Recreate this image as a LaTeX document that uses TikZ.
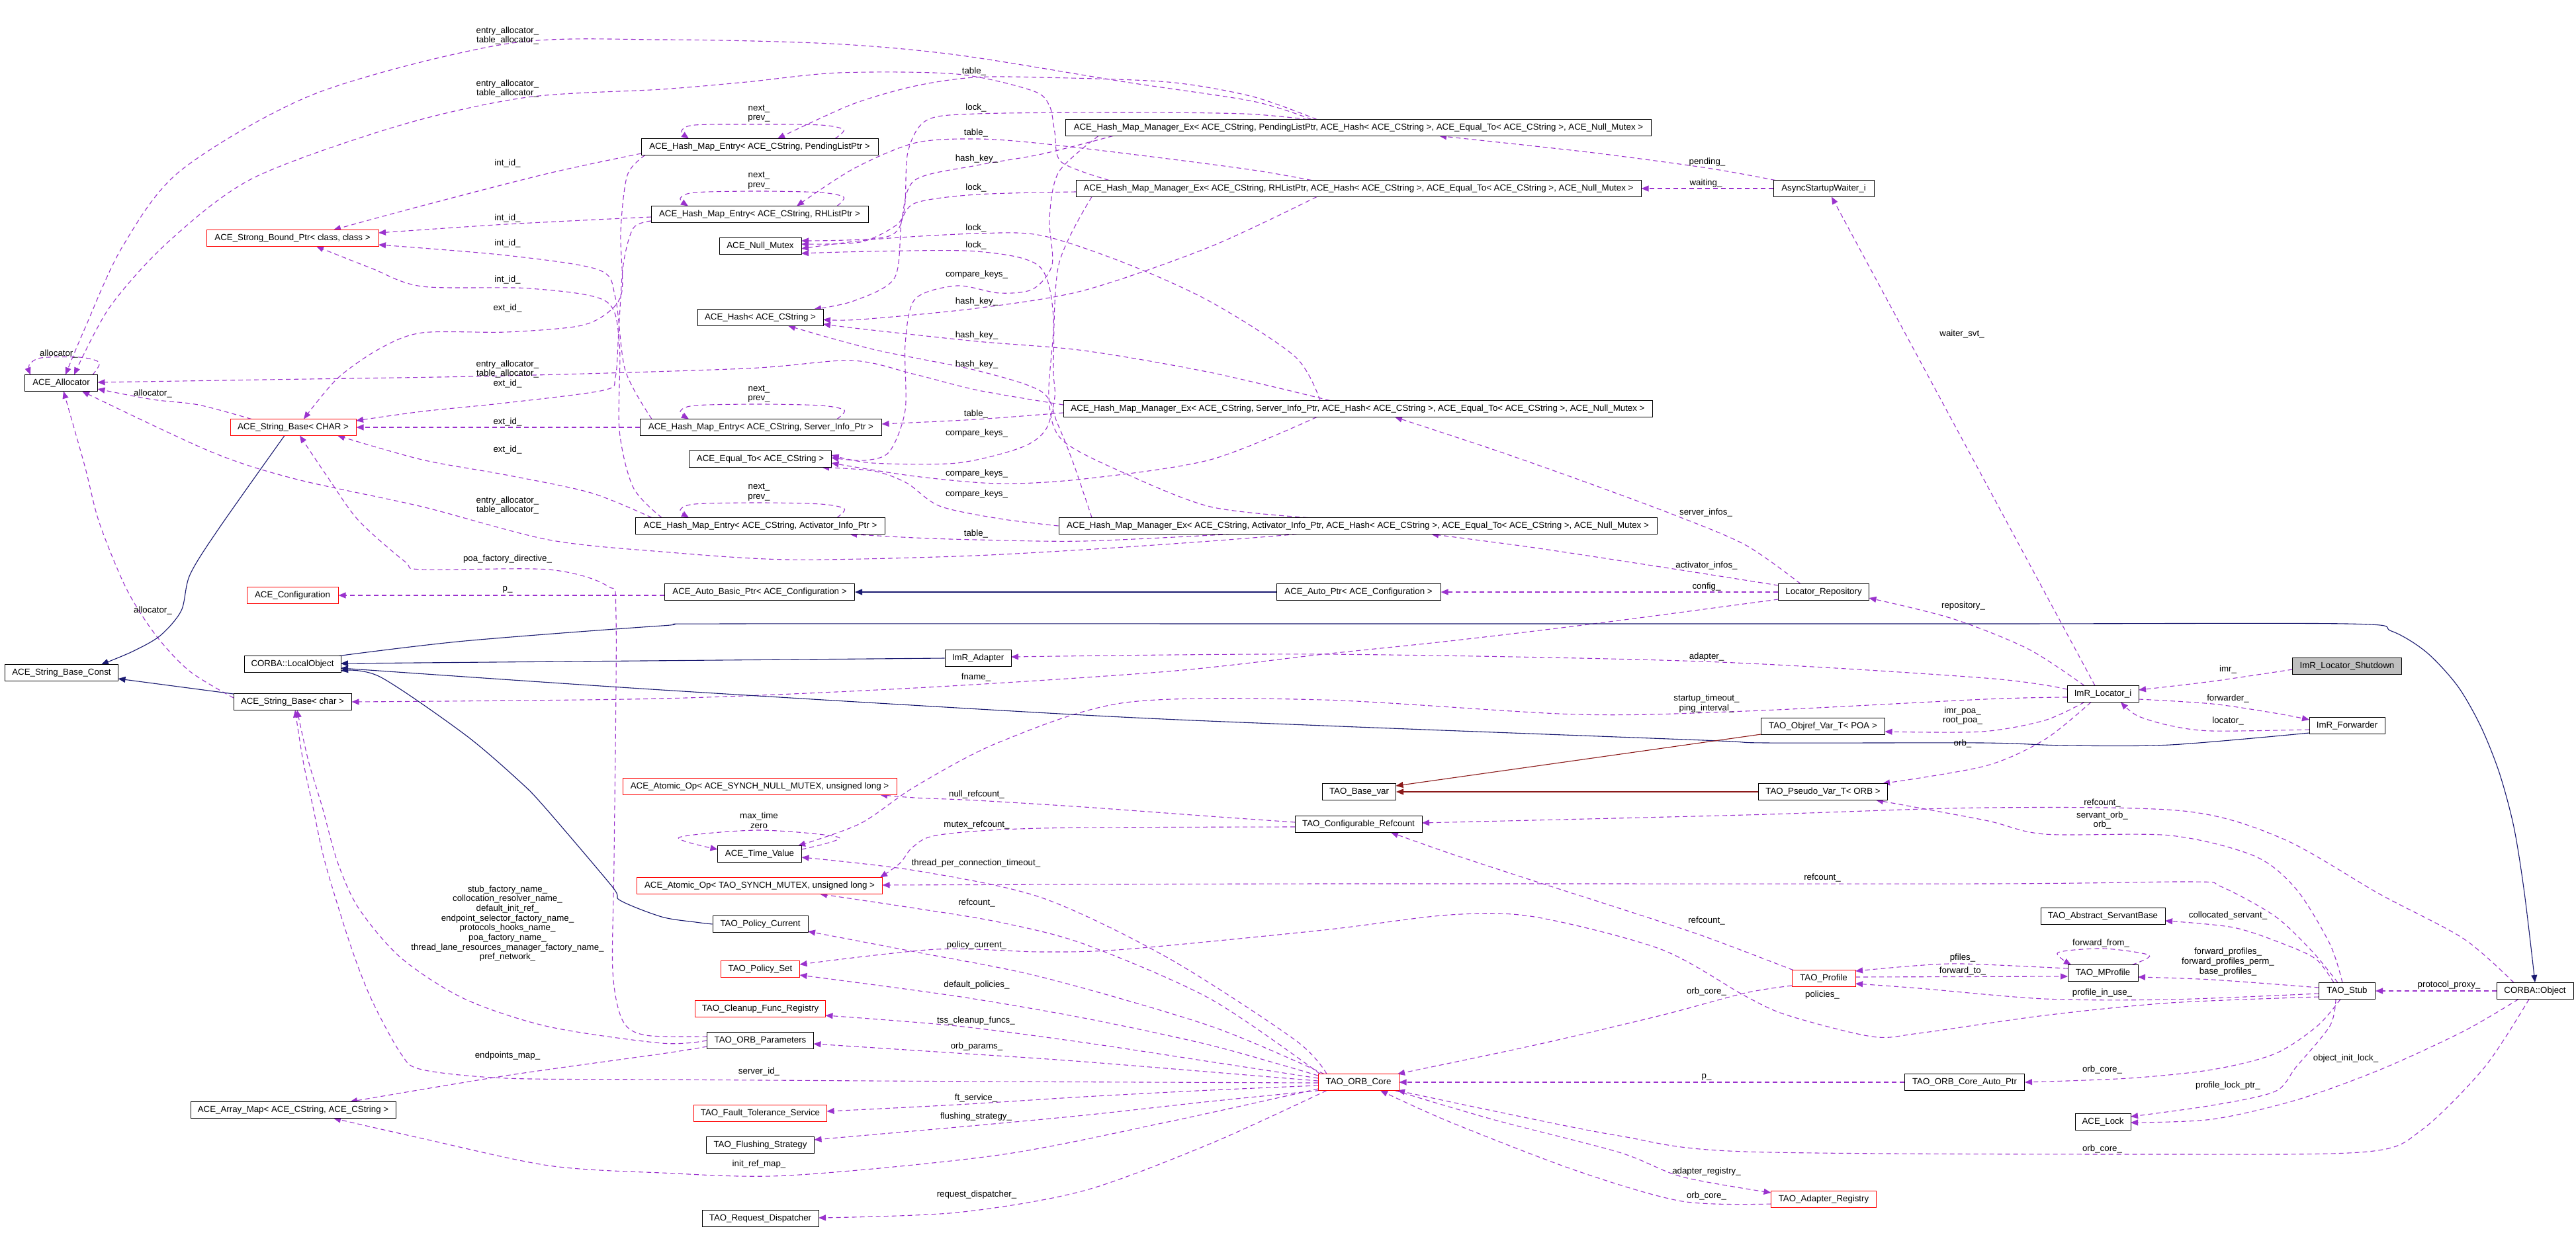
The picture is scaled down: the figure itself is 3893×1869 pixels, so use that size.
\documentclass[tikz,border=0pt]{standalone}
\usepackage{fontspec}
\setmainfont{Liberation Sans}
\usetikzlibrary{arrows.meta}
\definecolor{ucol}{HTML}{9A32CD}
\definecolor{icol}{HTML}{191970}
\definecolor{tcol}{HTML}{8B1A1A}
\definecolor{gcol}{HTML}{BFBFBF}
\pgfdeclarelayer{bg}
\pgfdeclarelayer{edges}
\pgfsetlayers{bg,edges,main}
\tikzset{
  cls/.style={draw=black, line width=1pt, fill=white, minimum height=25pt, inner sep=0pt, font=\fontsize{13.3}{15}\selectfont},
  rcls/.style={cls, draw=red},
  gcls/.style={cls, fill=gcol},
  lbl/.style={inner sep=0pt, align=center, font=\fontsize{13.3}{14.7}\selectfont},
  myarrow/.style={-{Triangle[length=11pt,width=9pt]}},
  uedge/.style={draw=ucol, line width=1.1pt, dash pattern=on 7pt off 5pt, myarrow},
  iedge/.style={draw=icol, line width=1.1pt, myarrow},
  tedge/.style={draw=tcol, line width=1.1pt, myarrow},
}
\begin{document}
\begin{tikzpicture}[x=1pt,y=-1pt]
\begin{pgfonlayer}{bg}
\fill[white] (0,0) rectangle (3893,1869);
\end{pgfonlayer}
\useasboundingbox (0,0) rectangle (3893,1869);

% ---------------- nodes ----------------
\node[cls,minimum width=110pt] (alloc) at (92.5,579) {ACE\_Allocator};
\node[cls,minimum width=171pt] (sbconst) at (93,1017) {ACE\_String\_Base\_Const};
\node[rcls,minimum width=260pt] (sbp) at (442,360) {ACE\_Strong\_Bound\_Ptr< class, class >};
\node[rcls,minimum width=190pt] (sbU) at (443,646) {ACE\_String\_Base< CHAR >};
\node[rcls,minimum width=138pt] (config) at (442,900) {ACE\_Configuration};
\node[cls,minimum width=146pt] (lobj) at (442,1004) {CORBA::LocalObject};
\node[cls,minimum width=178pt] (sbl) at (442,1061) {ACE\_String\_Base< char >};
\node[cls,minimum width=310pt] (amap) at (443,1678) {ACE\_Array\_Map< ACE\_CString, ACE\_CString >};

\node[cls,minimum width=358pt] (hme1) at (1148,222) {ACE\_Hash\_Map\_Entry< ACE\_CString, PendingListPtr >};
\node[cls,minimum width=328pt] (hme2) at (1148,324) {ACE\_Hash\_Map\_Entry< ACE\_CString, RHListPtr >};
\node[cls,minimum width=124pt] (nmutex) at (1149,372) {ACE\_Null\_Mutex};
\node[cls,minimum width=190pt] (hash) at (1149,480) {ACE\_Hash< ACE\_CString >};
\node[cls,minimum width=365pt] (hme3) at (1150,646) {ACE\_Hash\_Map\_Entry< ACE\_CString, Server\_Info\_Ptr >};
\node[cls,minimum width=215pt] (equal) at (1149,694) {ACE\_Equal\_To< ACE\_CString >};
\node[cls,minimum width=377pt] (hme4) at (1149,795) {ACE\_Hash\_Map\_Entry< ACE\_CString, Activator\_Info\_Ptr >};
\node[cls,minimum width=287pt] (abp) at (1148,895) {ACE\_Auto\_Basic\_Ptr< ACE\_Configuration >};
\node[cls,minimum width=100pt] (adapter) at (1478,995) {ImR\_Adapter};
\node[rcls,minimum width=414pt] (aonull) at (1148,1189) {ACE\_Atomic\_Op< ACE\_SYNCH\_NULL\_MUTEX, unsigned long >};
\node[cls,minimum width=127pt] (tval) at (1148,1291) {ACE\_Time\_Value};
\node[rcls,minimum width=371pt] (aomutex) at (1148,1339) {ACE\_Atomic\_Op< TAO\_SYNCH\_MUTEX, unsigned long >};
\node[cls,minimum width=144pt] (pcur) at (1149,1397) {TAO\_Policy\_Current};
\node[rcls,minimum width=119pt] (pset) at (1149,1465) {TAO\_Policy\_Set};
\node[rcls,minimum width=197pt] (cfr) at (1149,1525) {TAO\_Cleanup\_Func\_Registry};
\node[cls,minimum width=161pt] (orbp) at (1149,1573) {TAO\_ORB\_Parameters};
\node[rcls,minimum width=201pt] (fts) at (1149,1683) {TAO\_Fault\_Tolerance\_Service};
\node[cls,minimum width=163pt] (fls) at (1149,1731) {TAO\_Flushing\_Strategy};
\node[cls,minimum width=176pt] (rd) at (1149,1842) {TAO\_Request\_Dispatcher};

\node[cls,minimum width=885pt] (hm1) at (2053,193) {ACE\_Hash\_Map\_Manager\_Ex< ACE\_CString, PendingListPtr, ACE\_Hash< ACE\_CString >, ACE\_Equal\_To< ACE\_CString >, ACE\_Null\_Mutex >};
\node[cls,minimum width=854pt] (hm2) at (2053,285) {ACE\_Hash\_Map\_Manager\_Ex< ACE\_CString, RHListPtr, ACE\_Hash< ACE\_CString >, ACE\_Equal\_To< ACE\_CString >, ACE\_Null\_Mutex >};
\node[cls,minimum width=890pt] (hm3) at (2052,618) {ACE\_Hash\_Map\_Manager\_Ex< ACE\_CString, Server\_Info\_Ptr, ACE\_Hash< ACE\_CString >, ACE\_Equal\_To< ACE\_CString >, ACE\_Null\_Mutex >};
\node[cls,minimum width=904pt] (hm4) at (2052,795) {ACE\_Hash\_Map\_Manager\_Ex< ACE\_CString, Activator\_Info\_Ptr, ACE\_Hash< ACE\_CString >, ACE\_Equal\_To< ACE\_CString >, ACE\_Null\_Mutex >};
\node[cls,minimum width=248pt] (aptr) at (2053,895) {ACE\_Auto\_Ptr< ACE\_Configuration >};
\node[cls,minimum width=111pt] (basevar) at (2054,1197) {TAO\_Base\_var};
\node[cls,minimum width=192pt] (cref) at (2053,1246) {TAO\_Configurable\_Refcount};
\node[rcls,minimum width=122pt] (orbcore) at (2053,1636) {TAO\_ORB\_Core};

\node[cls,minimum width=152pt] (asw) at (2756,285) {AsyncStartupWaiter\_i};
\node[cls,minimum width=137pt] (repo) at (2756,895) {Locator\_Repository};
\node[cls,minimum width=187pt] (objref) at (2755,1098) {TAO\_Objref\_Var\_T< POA >};
\node[cls,minimum width=195pt] (pseudo) at (2755,1197) {TAO\_Pseudo\_Var\_T< ORB >};
\node[rcls,minimum width=96pt] (profile) at (2756,1479) {TAO\_Profile};
\node[rcls,minimum width=159pt] (areg) at (2756,1813) {TAO\_Adapter\_Registry};
\node[cls,minimum width=181pt] (orbap) at (2969,1636) {TAO\_ORB\_Core\_Auto\_Ptr};

\node[cls,minimum width=108pt] (loc) at (3178,1049) {ImR\_Locator\_i};
\node[cls,minimum width=188pt] (asb) at (3178,1385) {TAO\_Abstract\_ServantBase};
\node[cls,minimum width=106pt] (mprof) at (3178,1471) {TAO\_MProfile};
\node[cls,minimum width=84pt] (lock) at (3178,1696) {ACE\_Lock};
\node[gcls,minimum width=165pt] (shut) at (3547,1007) {ImR\_Locator\_Shutdown};
\node[cls,minimum width=114pt] (fwd) at (3547,1097) {ImR\_Forwarder};
\node[cls,minimum width=85pt] (stub) at (3547,1498) {TAO\_Stub};
\node[cls,minimum width=116pt] (cobj) at (3831,1498) {CORBA::Object};

% ---------------- edges ----------------
\begin{pgfonlayer}{edges}
% allocator
\draw[uedge] plot[smooth] coordinates {([shift={(47.5,-12.5)}]alloc.center) (150,548) (120,540) (62,541) (44,552) ([shift={(-46.5,-12.5)}]alloc.center)};
\draw[uedge] plot[smooth] coordinates {([shift={(-71,-12.5)}]hm1.center) (1893,153) (1701,124) (1446,83) (1255,66) (1000,60) (767,66) (478,141) (274,257) (185,373) (128,497) ([shift={(6.5,-12.5)}]alloc.center)};
\draw[uedge] plot[smooth] coordinates {([shift={(-377,-12.5)}]hm2.center) (1604,245) (1594,200) (1586,160) (1560,137) (1446,112) (1268,110) (1128,124) (1000,135) (797,147) (606,189) (383,269) (255,365) (166,464) ([shift={(19.5,-12.5)}]alloc.center)};
\draw[uedge] plot[smooth] coordinates {([shift={(-445,-6)}]hm3.center) (1478,590) (1383,566) (1287,545) (1128,557) (767,568) (400,574) ([shift={(55,-1)}]alloc.center)};
\draw[uedge] plot[smooth] coordinates {([shift={(-92,12.5)}]hm4.center) (1829,818) (1638,831) (1446,841) (1191,846) (1000,834) (829,816) (638,766) (446,724) (319,683) ([shift={(31.5,12.5)}]alloc.center)};
\draw[uedge] plot[smooth] coordinates {([shift={(-63,-12.5)}]sbU.center) (300,612) (231,604) ([shift={(55,9)}]alloc.center)};
\draw[uedge] plot[smooth] coordinates {([shift={(-89,-6)}]sbl.center) (287,1015) (236,961) (191,890) (150,790) (128,704) ([shift={(3.5,12.5)}]alloc.center)};
% table_
\draw[uedge] plot[smooth] coordinates {([shift={(-63,-12.5)}]hm1.center) (1893,146) (1765,124) (1574,117) (1472,117) (1383,130) (1287,158) ([shift={(27,-12.5)}]hme1.center)};
\draw[uedge] plot[smooth] coordinates {([shift={(-71,-12.5)}]hm2.center) (1900,258) (1765,240) (1574,217) (1476,210) (1383,216) (1290,255) ([shift={(56,-12.5)}]hme2.center)};
\draw[uedge] plot[smooth] coordinates {([shift={(-445,6)}]hm3.center) (1476,634) ([shift={(182.5,-5)}]hme3.center)};
\draw[uedge] plot[smooth] coordinates {([shift={(-192,12.5)}]hm4.center) (1638,818) (1476,816) (1383,813) ([shift={(135,12.5)}]hme4.center)};
% lock_
\draw[uedge] plot[smooth] coordinates {([shift={(-77,-12.5)}]hm1.center) (1880,172) (1700,170) (1476,172) (1400,182) (1372,230) (1366,320) (1340,358) ([shift={(62,-8)}]nmutex.center)};
\draw[uedge] plot[smooth] coordinates {([shift={(-427,5)}]hm2.center) (1476,294) (1383,307) (1355,340) (1300,366) ([shift={(62,-3)}]nmutex.center)};
\draw[uedge] plot[smooth] coordinates {([shift={(-57,-12.5)}]hm3.center) (1957,539) (1829,456) (1701,398) (1574,356) (1476,353) (1319,362) ([shift={(62,4)}]nmutex.center)};
\draw[uedge] plot[smooth] coordinates {([shift={(-76,-12.5)}]hm4.center) (1829,766) (1701,716) (1605,665) (1585,600) (1592,480) (1570,402) (1476,380) (1319,380) ([shift={(62,11)}]nmutex.center)};
% hash_key_
\draw[uedge] plot[smooth] coordinates {([shift={(-371,12.5)}]hm1.center) (1574,233) (1476,250) (1383,272) (1363,330) (1352,420) (1290,455) ([shift={(81,-12.5)}]hash.center)};
\draw[uedge] plot[smooth] coordinates {([shift={(-63,12.5)}]hm2.center) (1829,373) (1638,439) (1476,466) (1300,483) ([shift={(95,3)}]hash.center)};
\draw[uedge] plot[smooth] coordinates {([shift={(-42,-12.5)}]hm3.center) (1829,563) (1638,530) (1476,516) (1300,497) ([shift={(95,10)}]hash.center)};
\draw[uedge] plot[smooth] coordinates {([shift={(-402,-12.5)}]hm4.center) (1622,700) (1598,640) (1574,592) (1476,560) (1319,528) ([shift={(42,12.5)}]hash.center)};
% compare_keys_
\draw[uedge] plot[smooth] coordinates {([shift={(-393,12.5)}]hm1.center) (1600,260) (1586,330) (1590,400) (1561,437) (1510,443) (1446,432) (1383,452) (1368,520) (1368,620) (1344,683) (1306,696) ([shift={(107.5,-2)}]equal.center)};
\draw[uedge] plot[smooth] coordinates {([shift={(-403,12.5)}]hm2.center) (1600,400) (1592,550) (1594,600) (1580,650) (1542,677) (1446,700) (1319,700) ([shift={(107.5,-6)}]equal.center)};
\draw[uedge] plot[smooth] coordinates {([shift={(-62,12.5)}]hm3.center) (1829,695) (1638,724) (1510,731) (1383,720) ([shift={(107.5,6)}]equal.center)};
\draw[uedge] plot[smooth] coordinates {(hm4.west) (1510,784) (1420,765) (1370,730) (1320,712) ([shift={(93,12.5)}]equal.center)};
% int_id_
\draw[uedge] plot[smooth] coordinates {([shift={(-179,10)}]hme1.center) (829,262) (638,311) ([shift={(62,-12.5)}]sbp.center)};
\draw[uedge] plot[smooth] coordinates {([shift={(-164,4)}]hme2.center) (765,339) ([shift={(130,-8)}]sbp.center)};
\draw[uedge] plot[smooth] coordinates {([shift={(-165,-12.5)}]hme3.center) (945,560) (930,450) (905,408) (765,386) ([shift={(130,10)}]sbp.center)};
\draw[uedge] plot[smooth] coordinates {([shift={(-149,-12.5)}]hme4.center) (957,737) (936,650) (936,520) (915,455) (800,436) (638,433) (560,405) ([shift={(36,12.5)}]sbp.center)};
% ext_id_
\draw[uedge] plot[smooth] coordinates {([shift={(-173,12.5)}]hme1.center) (948,265) (938,350) (940,440) (918,473) (874,493) (765,502) (638,503) (574,527) (510,572) ([shift={(16,-12.5)}]sbU.center)};
\draw[uedge] plot[smooth] coordinates {([shift={(-164,10)}]hme2.center) (957,345) (942,400) (935,500) (930,570) (912,590) (765,609) (638,622) ([shift={(95,-10)}]sbU.center)};
\draw[uedge] (hme3.west) -- (sbU.east);
\draw[uedge] plot[smooth] coordinates {([shift={(-164,-12.5)}]hme4.center) (893,745) (765,718) (638,695) ([shift={(67,12.5)}]sbU.center)};
% next_/prev_ loops
\draw[uedge] plot[smooth] coordinates {([shift={(114,-12.5)}]hme1.center) (1275,196) (1240,189) (1147,188) (1050,189) (1030,198) ([shift={(-107,-12.5)}]hme1.center)};
\draw[uedge] plot[smooth] coordinates {([shift={(117,-12.5)}]hme2.center) (1275,298) (1240,291) (1147,289) (1050,291) (1028,300) ([shift={(-108,-12.5)}]hme2.center)};
\draw[uedge] plot[smooth] coordinates {([shift={(115,-12.5)}]hme3.center) (1276,620) (1240,613) (1147,611) (1050,613) (1028,622) ([shift={(-109,-12.5)}]hme3.center)};
\draw[uedge] plot[smooth] coordinates {([shift={(116,-12.5)}]hme4.center) (1276,769) (1240,762) (1147,760) (1050,762) (1028,771) ([shift={(-108,-12.5)}]hme4.center)};
% configuration
\draw[uedge] ([shift={(0,5)}]abp.west) -- (config.east);
% ORB parameters / ORB core to strings and maps
\draw[uedge] plot[smooth] coordinates {([shift={(-80.5,-6)}]orbp.center) (976,1565) (941,1543) (926,1468) (928,1300) (931,932) (918,886) (829,861) (638,861) (612,849) (542,787) (497,724) ([shift={(10,12.5)}]sbU.center)};
\draw[uedge] plot[smooth] coordinates {(orbp.west) (1000,1577) (829,1552) (702,1510) (606,1448) (542,1373) (510,1303) (487,1220) (466,1150) ([shift={(7,12.5)}]sbl.center)};
\draw[uedge] plot[smooth] coordinates {([shift={(-61,1)}]orbcore.center) (1500,1635) (1000,1632) (765,1630) (638,1617) (606,1593) (561,1510) (529,1427) (491,1303) (473,1220) (458,1150) ([shift={(4,12.5)}]sbl.center)};
\draw[uedge] plot[smooth] coordinates {([shift={(-80.5,9)}]orbp.center) (1000,1593) (765,1626) ([shift={(86,-12.5)}]amap.center)};
\draw[uedge] plot[smooth] coordinates {([shift={(-61,10)}]orbcore.center) (1765,1696) (1510,1746) (1191,1777) (1000,1773) (829,1762) (638,1721) ([shift={(61,12.5)}]amap.center)};
% locator side
\draw[uedge] (asw.west) -- (hm2.east);
\draw[uedge] plot[smooth] coordinates {([shift={(-73,-12.5)}]asw.center) (2580,254) (2400,230) ([shift={(122,12.5)}]hm1.center)};
\draw[uedge] ([shift={(-12,-12.5)}]loc.center) -- ([shift={(12,12.5)}]asw.center);
\draw[uedge] plot[smooth] coordinates {([shift={(-28,-12.5)}]loc.center) (3065,981) (2950,935) ([shift={(68.5,9)}]repo.center)};
\draw[uedge] plot[smooth] coordinates {([shift={(-54,-7)}]loc.center) (3000,1025) (2574,1000) (2000,989) ([shift={(50,-2)}]adapter.center)};
\draw[uedge] plot[smooth] coordinates {([shift={(-68.5,11)}]repo.center) (2408,943) (2191,969) (2000,989) (1765,1015) (1383,1040) (1000,1056) (sbl.east)};
\draw[uedge] (repo.west) -- (aptr.east);
\draw[uedge] plot[smooth] coordinates {([shift={(-35,-12.5)}]repo.center) (2638,824) (2529,778) (2383,724) (2255,679) ([shift={(56,12.5)}]hm3.center)};
\draw[uedge] plot[smooth] coordinates {([shift={(-68.5,-10)}]repo.center) (2529,860) (2319,828) ([shift={(111,12.5)}]hm4.center)};
\draw[uedge] plot[smooth] coordinates {([shift={(-54,5)}]loc.center) (3000,1057) (2638,1075) (2383,1080) (2000,1058) (1701,1062) (1510,1122) (1383,1189) (1300,1245) ([shift={(58,-12.5)}]tval.center)};
\draw[uedge] plot[smooth] coordinates {([shift={(-28,12.5)}]loc.center) (3090,1089) (2995,1106) ([shift={(93.5,8)}]objref.center)};
\draw[uedge] plot[smooth] coordinates {([shift={(-18,12.5)}]loc.center) (3090,1118) (3000,1158) ([shift={(90,-12.5)}]pseudo.center)};
\draw[uedge] plot[smooth] coordinates {([shift={(-82.5,5)}]shut.center) (3343,1030) ([shift={(54,-6)}]loc.center)};
\draw[uedge] plot[smooth] coordinates {([shift={(54,8)}]loc.center) (3343,1064) (3438,1078) ([shift={(-57,-9)}]fwd.center)};
\draw[uedge] plot[smooth] coordinates {([shift={(-57,6)}]fwd.center) (3343,1105) (3280,1097) (3230,1082) ([shift={(27,12.5)}]loc.center)};
% inheritance
\draw[iedge] plot[smooth] coordinates {([shift={(-57,11)}]fwd.center) (3280,1126) (3122,1127) (2995,1123) (2670,1123) (2574,1119) (2000,1097) (1638,1081) (1000,1043) ([shift={(73,6)}]lobj.center)};
\draw[iedge] (adapter.west) -- ([shift={(73,-1)}]lobj.center);
\draw[iedge] plot[smooth] coordinates {([shift={(70,-12.5)}]lobj.center) (702,969) (1000,946) (1100,943) (2000,943) (3000,943) (3547,943) (3614,954) (3667,986) (3714,1037) (3749,1098) (3777,1168) (3799,1250) (3815,1350) (cobj.north)};
\draw[iedge] plot[smooth] coordinates {(pcur.west) (1051,1394) (1000,1386) (937,1361) (925,1340) (823,1220) (784,1180) (702,1110) (574,1023) ([shift={(73,10)}]lobj.center)};
\draw[iedge] plot[smooth] coordinates {([shift={(-13,12.5)}]sbU.center) (330,800) (287,869) (274,923) (242,961) (200,985) ([shift={(60,-12.5)}]sbconst.center)};
\draw[iedge] ([shift={(-89,-12)}]sbl.center) -- ([shift={(85.5,9)}]sbconst.center);
\draw[iedge] (aptr.west) -- (abp.east);
\draw[tedge] ([shift={(-93.5,12)}]objref.center) -- ([shift={(55.5,-9)}]basevar.center);
\draw[tedge] (pseudo.west) -- (basevar.east);
% refcounts and time values
\draw[uedge] plot[smooth] coordinates {([shift={(-96,-3)}]cref.center) (1829,1234) (1638,1220) (1476,1210) (1383,1206) ([shift={(182,12.5)}]aonull.center)};
\draw[uedge] plot[smooth] coordinates {([shift={(-96,4)}]cref.center) (1574,1252) (1420,1262) (1380,1280) (1360,1305) ([shift={(182,-12.5)}]aomutex.center)};
\draw[uedge] plot[smooth] coordinates {([shift={(63.5,-7)}]tval.center) (1268,1266) (1147,1255) (1026,1266) ([shift={(-63.5,-7)}]tval.center)};
\draw[uedge] plot[smooth] coordinates {([shift={(-48,-12.5)}]orbcore.center) (1957,1572) (1765,1448) (1574,1357) (1383,1316) ([shift={(63.5,5)}]tval.center)};
\draw[uedge] plot[smooth] coordinates {([shift={(-58,-12.5)}]orbcore.center) (1829,1510) (1638,1427) (1510,1394) (1383,1373) ([shift={(91,12.5)}]aomutex.center)};
\draw[uedge] plot[smooth] coordinates {([shift={(-14,-12.5)}]stub.center) (3495,1439) (3438,1385) (3356,1340) (3312,1333) (3000,1336) (2000,1336) ([shift={(185.5,-1)}]aomutex.center)};
\draw[uedge] plot[smooth] coordinates {([shift={(-46,-12.5)}]profile.center) (2574,1415) (2447,1373) (2319,1332) (2191,1290) ([shift={(49,12.5)}]cref.center)};
\draw[uedge] plot[smooth] coordinates {([shift={(-32,-12.5)}]cobj.center) (3723,1419) (3597,1352) (3450,1268) (3300,1226) (3000,1221) (2638,1232) ([shift={(96,-2)}]cref.center)};
\draw[uedge] plot[smooth] coordinates {([shift={(-7,-12.5)}]stub.center) (3521,1427) (3470,1344) (3407,1294) (3280,1263) (3090,1261) (3000,1240) ([shift={(80,12.5)}]pseudo.center)};
% stub / profiles
\draw[uedge] plot[smooth] coordinates {([shift={(-20,-12.5)}]stub.center) (3500,1450) (3451,1427) (3375,1402) ([shift={(94,7)}]asb.center)};
\draw[uedge] plot[smooth] coordinates {([shift={(-42.5,-5)}]stub.center) (3343,1481) ([shift={(53,6)}]mprof.center)};
\draw[uedge] plot[smooth] coordinates {([shift={(44,-12.5)}]mprof.center) (3248,1444) (3179,1434) (3110,1440) ([shift={(-48,-12.5)}]mprof.center)};
\draw[uedge] plot[smooth] coordinates {([shift={(-53,-7)}]mprof.center) (2966,1457) (2893,1460) ([shift={(48,-11)}]profile.center)};
\draw[uedge] ([shift={(48,-2)}]profile.center) -- ([shift={(-53,5)}]mprof.center);
\draw[uedge] plot[smooth] coordinates {([shift={(-43,4)}]stub.center) (3280,1511) (3090,1510) (2900,1494) ([shift={(48,8)}]profile.center)};
\draw[uedge] plot[smooth] coordinates {([shift={(-43,9)}]stub.center) (3280,1516) (3090,1535) (2900,1562) (2829,1567) (2702,1535) (2638,1506) (2510,1435) (2319,1386) (2191,1383) (2000,1406) (1701,1435) (1574,1439) (1415,1435) ([shift={(59.5,-7)}]pset.center)};
\draw[uedge] (cobj.west) -- (stub.east);
% ORB core outgoing
\draw[uedge] plot[smooth] coordinates {([shift={(-52,-12.5)}]orbcore.center) (1829,1551) (1574,1477) (1383,1439) ([shift={(72,11)}]pcur.center)};
\draw[uedge] plot[smooth] coordinates {([shift={(-61,-10)}]orbcore.center) (1829,1580) (1638,1539) (1446,1506) ([shift={(59.5,9)}]pset.center)};
\draw[uedge] plot[smooth] coordinates {([shift={(-61,-6)}]orbcore.center) (1829,1605) (1638,1576) (1446,1551) ([shift={(98.5,10)}]cfr.center)};
\draw[uedge] plot[smooth] coordinates {([shift={(-61,-2)}]orbcore.center) (1638,1605) (1446,1592) ([shift={(80.5,5)}]orbp.center)};
\draw[uedge] plot[smooth] coordinates {([shift={(-61,5)}]orbcore.center) (1829,1648) (1638,1658) (1446,1670) ([shift={(100.5,-3)}]fts.center)};
\draw[uedge] plot[smooth] coordinates {([shift={(-59,12.5)}]orbcore.center) (1829,1665) (1638,1686) (1446,1704) ([shift={(81.5,-8)}]fls.center)};
\draw[uedge] plot[smooth] coordinates {([shift={(-48,12.5)}]orbcore.center) (1829,1729) (1638,1800) (1446,1833) ([shift={(88,-1)}]rd.center)};
\draw[uedge] plot[smooth] coordinates {([shift={(-48,11)}]profile.center) (2638,1501) (2510,1535) (2319,1580) ([shift={(59,-12.5)}]orbcore.center)};
\draw[uedge] (orbap.west) -- (orbcore.east);
\draw[uedge] plot[smooth] coordinates {([shift={(-10,12.5)}]stub.center) (3502,1551) (3438,1593) (3343,1617) (3217,1630) (orbap.east)};
\draw[uedge] plot[smooth] coordinates {([shift={(-17,12.5)}]stub.center) (3521,1551) (3470,1613) (3438,1650) (3343,1671) ([shift={(42,-8)}]lock.center)};
\draw[uedge] plot[smooth] coordinates {([shift={(-25,12.5)}]cobj.center) (3723,1559) (3597,1617) (3470,1663) (3343,1692) ([shift={(42,1)}]lock.center)};
\draw[uedge] plot[smooth] coordinates {([shift={(-9,12.5)}]cobj.center) (3755,1613) (3660,1708) (3578,1741) (3280,1745) (2638,1741) (2447,1717) (2255,1679) ([shift={(59,12.5)}]orbcore.center)};
\draw[uedge] plot[smooth] coordinates {([shift={(55,12.5)}]orbcore.center) (2255,1692) (2447,1742) (2542,1779) ([shift={(-79.5,-10)}]areg.center)};
\draw[uedge] plot[smooth] coordinates {([shift={(-79.5,7)}]areg.center) (2542,1816) (2383,1770) (2191,1696) ([shift={(33,12.5)}]orbcore.center)};
\end{pgfonlayer}

% ---------------- labels ----------------
\node[lbl] (la1) at (767,54) {entry\_allocator\_\\table\_allocator\_};
\node[lbl] (la2) at (767,134) {entry\_allocator\_\\table\_allocator\_};
\node[lbl] (la3) at (767,558) {entry\_allocator\_\\table\_allocator\_};
\node[lbl] (la4) at (767,764) {entry\_allocator\_\\table\_allocator\_};
\node[lbl] (li1) at (767,247) {int\_id\_};
\node[lbl] (li2) at (767,330) {int\_id\_};
\node[lbl] (li3) at (767,368) {int\_id\_};
\node[lbl] (li4) at (767,423) {int\_id\_};
\node[lbl] (le1) at (767,466) {ext\_id\_};
\node[lbl] (le2) at (767,580) {ext\_id\_};
\node[lbl] (le3) at (767,638) {ext\_id\_};
\node[lbl] (le4) at (767,680) {ext\_id\_};
\node[lbl] (lal1) at (89,535) {allocator\_};
\node[lbl] (lal2) at (231,595) {allocator\_};
\node[lbl] (lal3) at (231,923) {allocator\_};
\node[lbl] (lpoa) at (767,845) {poa\_factory\_directive\_};
\node[lbl] (lp1) at (767,891) {p\_};
\node[lbl] (lnames) at (767,1396) {stub\_factory\_name\_\\collocation\_resolver\_name\_\\default\_init\_ref\_\\endpoint\_selector\_factory\_name\_\\protocols\_hooks\_name\_\\poa\_factory\_name\_\\thread\_lane\_resources\_manager\_factory\_name\_\\pref\_network\_};
\node[lbl] (lemap) at (767,1596) {endpoints\_map\_};
\node[lbl] (lt1) at (1472,108) {table\_};
\node[lbl] (lt2) at (1475,201) {table\_};
\node[lbl] (lt3) at (1475,626) {table\_};
\node[lbl] (lt4) at (1475,807) {table\_};
\node[lbl] (lnp1) at (1147,171.5) {next\_\\prev\_};
\node[lbl] (lnp2) at (1147,273) {next\_\\prev\_};
\node[lbl] (lnp3) at (1147,595.5) {next\_\\prev\_};
\node[lbl] (lnp4) at (1147,744) {next\_\\prev\_};
\node[lbl] (llk1) at (1475,163) {lock\_};
\node[lbl] (llk2) at (1475,284) {lock\_};
\node[lbl] (llk3) at (1475,345) {lock\_};
\node[lbl] (llk4) at (1475,371) {lock\_};
\node[lbl] (lhk1) at (1476,240) {hash\_key\_};
\node[lbl] (lhk2) at (1476,456) {hash\_key\_};
\node[lbl] (lhk3) at (1476,507) {hash\_key\_};
\node[lbl] (lhk4) at (1476,551) {hash\_key\_};
\node[lbl] (lck1) at (1476,415) {compare\_keys\_};
\node[lbl] (lck2) at (1476,655) {compare\_keys\_};
\node[lbl] (lck3) at (1476,716) {compare\_keys\_};
\node[lbl] (lck4) at (1476,747) {compare\_keys\_};
\node[lbl] (lfname) at (1475,1024) {fname\_};
\node[lbl] (lnull) at (1476,1201) {null\_refcount\_};
\node[lbl] (lmax) at (1147,1240) {max\_time\\zero};
\node[lbl] (lmutex) at (1476,1247) {mutex\_refcount\_};
\node[lbl] (ltpct) at (1475,1305) {thread\_per\_connection\_timeout\_};
\node[lbl] (lrc1) at (1476,1365) {refcount\_};
\node[lbl] (lpc) at (1476,1429) {policy\_current\_};
\node[lbl] (ldp) at (1476,1489) {default\_policies\_};
\node[lbl] (ltss) at (1475,1543) {tss\_cleanup\_funcs\_};
\node[lbl] (lop) at (1476,1582) {orb\_params\_};
\node[lbl] (lsid) at (1147,1620) {server\_id\_};
\node[lbl] (lft) at (1475,1660) {ft\_service\_};
\node[lbl] (lfs) at (1475,1688) {flushing\_strategy\_};
\node[lbl] (lirm) at (1147,1760) {init\_ref\_map\_};
\node[lbl] (lrd) at (1476,1806) {request\_dispatcher\_};
\node[lbl] (lpend) at (2580,245) {pending\_};
\node[lbl] (lwait) at (2578,277) {waiting\_};
\node[lbl] (lsi) at (2578,775) {server\_infos\_};
\node[lbl] (lai) at (2579,855) {activator\_infos\_};
\node[lbl] (lcfg) at (2579,887) {config\_};
\node[lbl] (ladp) at (2579,993) {adapter\_};
\node[lbl] (lstp) at (2579,1063.5) {startup\_timeout\_\\ping\_interval\_};
\node[lbl] (lrc2) at (2754,1327) {refcount\_};
\node[lbl] (lrc3) at (2579,1392) {refcount\_};
\node[lbl] (loc1) at (2579,1499) {orb\_core\_};
\node[lbl] (lpol) at (2754,1504) {policies\_};
\node[lbl] (lp2) at (2579,1628) {p\_};
\node[lbl] (lar) at (2579,1771) {adapter\_registry\_};
\node[lbl] (loc2) at (2579,1808) {orb\_core\_};
\node[lbl] (lws) at (2965,505) {waiter\_svt\_};
\node[lbl] (lrep) at (2967,916) {repository\_};
\node[lbl] (lpoas) at (2966,1082) {imr\_poa\_\\root\_poa\_};
\node[lbl] (lorb) at (2966,1124) {orb\_};
\node[lbl] (lpf) at (2966,1448) {pfiles\_};
\node[lbl] (lfwt) at (2966,1468) {forward\_to\_};
\node[lbl] (limr) at (3367,1012) {imr\_};
\node[lbl] (lfwd) at (3367,1056) {forwarder\_};
\node[lbl] (lloc) at (3367,1090) {locator\_};
\node[lbl] (lrc4) at (3177,1214) {refcount\_};
\node[lbl] (lsorb) at (3177,1240) {servant\_orb\_\\orb\_};
\node[lbl] (lcs) at (3367,1384) {collocated\_servant\_};
\node[lbl] (lff) at (3175,1426) {forward\_from\_};
\node[lbl] (lfp) at (3367,1454) {forward\_profiles\_\\forward\_profiles\_perm\_\\base\_profiles\_};
\node[lbl] (lpp) at (3701,1489) {protocol\_proxy\_};
\node[lbl] (lpiu) at (3177,1501) {profile\_in\_use\_};
\node[lbl] (loil) at (3545,1600) {object\_init\_lock\_};
\node[lbl] (loc3) at (3177,1617) {orb\_core\_};
\node[lbl] (lplp) at (3367,1641) {profile\_lock\_ptr\_};
\node[lbl] (loc4) at (3177,1737) {orb\_core\_};
\end{tikzpicture}
\end{document}
